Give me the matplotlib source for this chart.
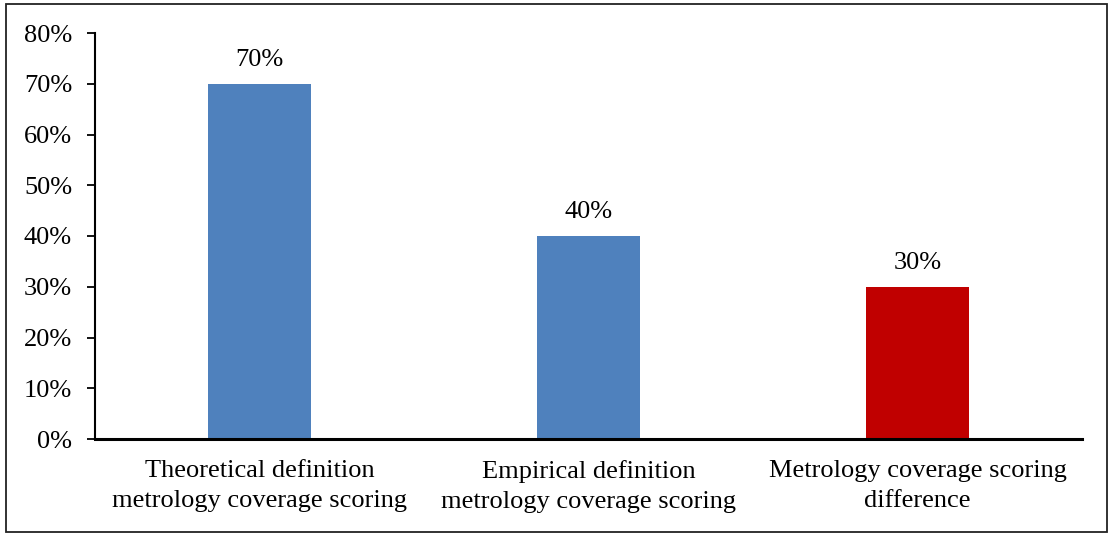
import matplotlib
matplotlib.use("Agg")
import matplotlib.pyplot as plt
from matplotlib.patches import Rectangle
from matplotlib.ticker import FuncFormatter

categories = ["Theoretical definition\nmetrology coverage scoring",
              "Empirical definition\nmetrology coverage scoring",
              "Metrology coverage scoring\ndifference"]
values = [70, 40, 30]
colors = ["#4F81BD", "#4F81BD", "#C00000"]
yticks = [0, 10, 20, 30, 40, 50, 60, 70, 80]

plt.rcParams['font.family'] = ['Liberation Serif', 'DejaVu Serif']

fig = plt.figure(figsize=(11.09, 5.33), dpi=100)
ax = fig.add_axes([95/1109, 1-439/533, (1082-95)/1109, (439-33)/533])

x = list(range(len(categories)))
ax.bar(x, values, width=0.313, color=colors)
ax.set_xlim(-0.5, 2.5)
ax.set_ylim(0, 80)
ax.set_yticks(yticks)
ax.yaxis.set_major_formatter(FuncFormatter(lambda v, p: f"{int(v)}%"))
ax.set_xticks(x)
ax.set_xticklabels(categories, fontsize=19, linespacing=1.5)
ax.tick_params(axis='x', length=0, pad=15)
ax.tick_params(axis='y', length=6, width=1.3, labelsize=19, pad=10.5, direction='out')
for s in ['top', 'right']:
    ax.spines[s].set_visible(False)
ax.spines['left'].set_linewidth(1.5)
ax.spines['bottom'].set_linewidth(2.2)

for xi, v in zip(x, values):
    ax.annotate(f"{v}%", (xi, v), xytext=(0, 13), textcoords='offset points',
                ha='center', va='baseline', fontsize=19)

fig.patches.append(Rectangle((6/1109, 1/533), (1107-6)/1109, (529-1)/533,
                             transform=fig.transFigure, fill=False,
                             edgecolor='#222222', linewidth=1.3))

fig.savefig("out.png", dpi=100)
